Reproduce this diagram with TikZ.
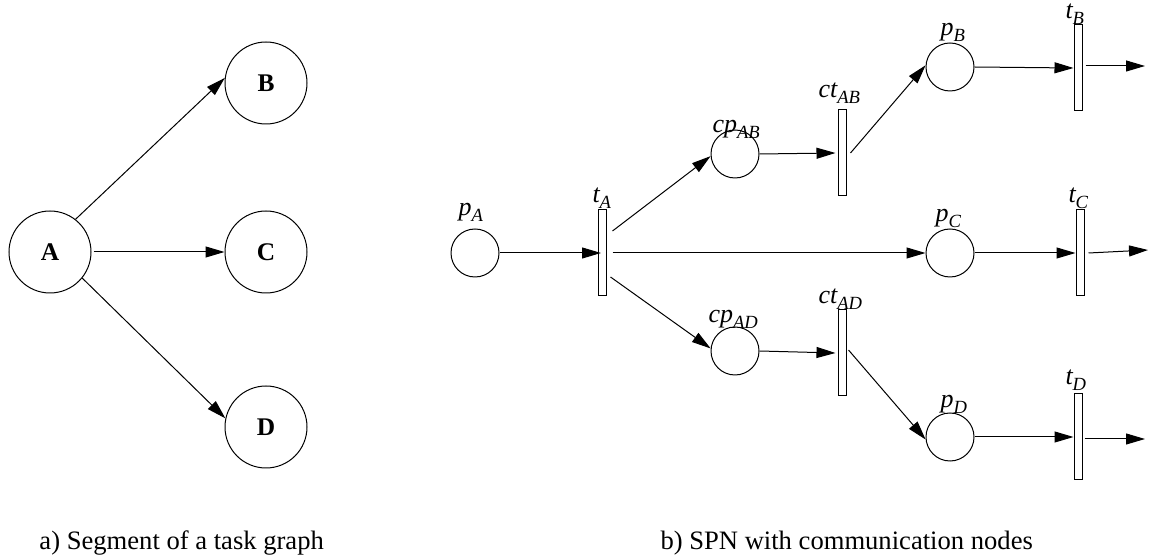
\documentclass[tikz,border=0pt]{standalone}
\usepackage{fontspec}
\setmainfont{Liberation Serif}
\usetikzlibrary{arrows.meta}

% italic place/transition name with a lowered subscript
\newcommand{\pname}[2]{\itshape #1\raisebox{-3pt}{\fontsize{9.3}{10}\selectfont #2}}

\begin{document}
\begin{tikzpicture}[x=0.5pt, y=-0.5pt, line width=0.5pt,
    arc/.style={-{Triangle[length=9.5pt, width=5.5pt]}},
    task/.style={draw, circle, minimum size=41pt, inner sep=0pt,
        font=\fontsize{12.7}{15}\selectfont\bfseries},
    place/.style={draw, circle, minimum size=24pt, inner sep=0pt},
    trans/.style={draw, rectangle, minimum width=4pt, minimum height=43pt, inner sep=0pt},
    lbl/.style={anchor=base west, inner sep=0pt, font=\fontsize{13}{15}\selectfont},
    caption/.style={anchor=base west, inner sep=0pt, font=\fontsize{13.3}{16}\selectfont}]
    \useasboundingbox (0, 0) rectangle (1156, 560);

    % a) task graph
    \node[task] (A) at (50, 252) {A};
    \node[task] (B) at (266, 83) {B};
    \node[task] (C) at (266, 252) {C};
    \node[task] (D) at (266, 427) {D};
    \draw[arc] (A.52) -- (B.173);
    \draw[arc] ([xshift=1pt]A.east) -- (C.west);
    \draw[arc] (A.-39) -- (D.168);

    % b) SPN
    \node[place] (pA) at (475, 253) {};
    \node[trans] (tA) at (602, 253) {};
    \node[place] (cpAB) at (735, 154) {};
    \node[trans] (ctAB) at (842, 153) {};
    \node[place] (cpAD) at (735, 351) {};
    \node[trans] (ctAD) at (842, 353) {};
    \node[place] (pB) at (950, 67) {};
    \node[trans] (tB) at (1078, 68) {};
    \node[place] (pC) at (950, 253) {};
    \node[trans] (tC) at (1080, 253) {};
    \node[place] (pD) at (950, 437) {};
    \node[trans] (tD) at (1078, 437) {};
    \coordinate (oB) at (1145, 66);
    \coordinate (oC) at (1148, 250);
    \coordinate (oD) at (1145, 439);

    \node[lbl] at (458, 216) {\pname{p}{A}};
    \node[lbl] at (592, 203) {\pname{t}{A}};
    \node[lbl] at (712, 133) {\pname{cp}{AB}};
    \node[lbl] at (818, 98) {\pname{ct}{AB}};
    \node[lbl] at (708, 323) {\pname{cp}{AD}};
    \node[lbl] at (818, 304) {\pname{ct}{AD}};
    \node[lbl] at (940, 36) {\pname{p}{B}};
    \node[lbl] at (1065, 19) {\pname{t}{B}};
    \node[lbl] at (935, 222) {\pname{p}{C}};
    \node[lbl] at (1068, 203) {\pname{t}{C}};
    \node[lbl] at (940, 408) {\pname{p}{D}};
    \node[lbl] at (1065, 385) {\pname{t}{D}};

    \draw[arc] (pA.east) -- ([xshift=-0.5pt]tA.center);
    \draw[arc] ([xshift=3pt, yshift=11pt]tA.east) -- (cpAB.185);
    \draw[arc] ([xshift=3pt]tA.east) -- (pC.west);
    \draw[arc] ([xshift=2pt, yshift=-12pt]tA.east) -- (cpAD.174);
    \draw[arc] (cpAB.east) -- ([xshift=-1pt]ctAB.west);
    \draw[arc] (cpAD.east) -- ([xshift=-1pt]ctAD.west);
    \draw[arc] ([xshift=2pt]ctAB.east) -- (pB.176);
    \draw[arc] ([xshift=1pt, yshift=1.5pt]ctAD.east) -- (pD.186);
    \draw[arc] (pB.east) -- (tB.west);
    \draw[arc] (pC.east) -- (tC.west);
    \draw[arc] (pD.east) -- (tD.west);
    \draw[arc] ([xshift=1.5pt, yshift=1pt]tB.east) -- (oB);
    \draw[arc] ([xshift=2pt]tC.east) -- (oC);
    \draw[arc] ([xshift=1pt, yshift=-1pt]tD.east) -- (oD);

    % captions
    \node[caption] at (39, 550) {a) Segment of a task graph};
    \node[caption] at (660, 550) {b) SPN with communication nodes};
\end{tikzpicture}
\end{document}
